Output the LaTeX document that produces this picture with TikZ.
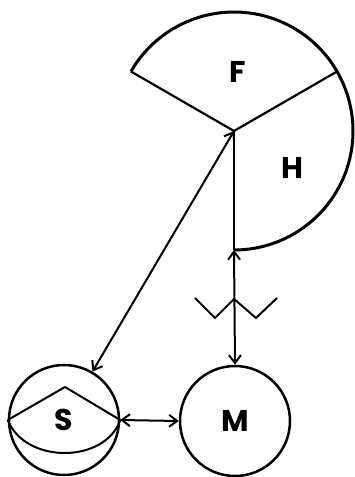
\documentclass[tikz,border=0pt]{standalone}
\usepackage{fontspec}
\setsansfont{Poppins}
\usetikzlibrary{calc,arrows.meta}

\begin{document}
\begin{tikzpicture}[x=1pt,y=1pt,
	every node/.style={font=\sffamily\bfseries\fontsize{30}{30}\selectfont},
	ball/.style={draw,circle,line width=2.5pt,minimum size=110pt,inner sep=0pt},
	link/.style={line width=2pt,{Straight Barb[length=8pt,width=12pt]}-{Straight Barb[length=8pt,width=12pt]}}]

% parameters %{{{2

	\def\radius{119}
	\def\leftangle{150}
	\def\midangle{30}

	\useasboundingbox (0,0) rectangle (354,-477);

% coordinates %{{{2

	\coordinate (O) at (234,-131);
	\coordinate (P1) at ($(O)+(\leftangle:\radius)$);
	\coordinate (P2) at ($(O)+(\midangle:\radius)$);
	\coordinate (P3) at ($(O)+(270:\radius)$);

% sector %{{{2

	\draw[line width=3pt,line join=round] (P1) arc[start angle=\leftangle,end angle=-90,radius=\radius];
	\draw[line width=2.2pt] (P1) -- (O) -- (P2);
	\draw[line width=2.2pt] (O) -- (P3);

% circles %{{{2

	\node[ball] (S) at (64,-420) {S};
	\node[ball] (M) at (235,-421) {M};

	\coordinate (T) at (65,-387);
	\draw[line width=2pt,line join=round] (S.west) -- (T) -- (S.east);
	\draw[line width=2pt] (S.west) .. controls (25,-464) and (105,-464) .. (S.east);

% arrows %{{{2

	\draw[link] (O) -- (S);
	\draw[link] (S.east) -- (M.west);
	\draw[link] (P3) -- (M.north);

% mark %{{{2

	\draw[line width=2pt] (195,-298) -- (215,-318) -- (234,-299) -- (256,-318) -- (277,-298);

% labels %{{{2

	\node at (238,-72) {F};
	\node at (292,-168) {H};

% closing %{{{2

\end{tikzpicture}
\end{document}
